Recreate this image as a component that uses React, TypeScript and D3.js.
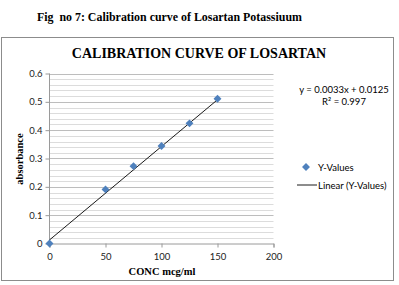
import * as d3 from 'd3';
import { useEffect, useRef } from "react";

// calibration standards (concentration, absorbance)
const concentrations = [0, 50, 75, 100, 125, 150];
const absorbances = [0, 0.191, 0.273, 0.344, 0.424, 0.511];
const xTicks = [0, 50, 100, 150, 200];
const yTicks = [0, 0.1, 0.2, 0.3, 0.4, 0.5, 0.6];
const slope = 0.0033;
const intercept = 0.0125;
const fitLabel = 'y = 0.0033x + 0.0125';
const r2Label = 'R² = 0.997';

const W = 399, H = 285;
const m = { left: 49.5, right: 273.5, top: 73.5, bottom: 243.5 };

const App = () => {
    const svgRef = useRef(null);

    useEffect(() => {
        const svg = d3.select(svgRef.current);
        svg.selectAll('*').remove();

        const x = d3.scaleLinear().domain([0, 200]).range([m.left, m.right]);
        const y = d3.scaleLinear().domain([0, 0.6]).range([m.bottom, m.top]);
        const serif = '"Liberation Serif", "Times New Roman", serif';
        const sans = 'Lato, "Liberation Sans", sans-serif';

        svg.append('rect').attr('width', W).attr('height', H).attr('fill', '#fff');

        svg.append('text')
            .attr('x', 37).attr('y', 21)
            .attr('font-family', serif).attr('font-weight', 'bold').attr('font-size', 11.9)
            .style('white-space', 'pre')
            .text('Fig  no 7: Calibration curve of Losartan Potassiuum');

        // chart frame
        svg.append('rect')
            .attr('x', 1.5).attr('y', 37.5).attr('width', 392).attr('height', 243)
            .attr('fill', 'none').attr('stroke', '#8c8c8c').attr('stroke-width', 1);

        svg.append('text')
            .attr('x', 199).attr('y', 58).attr('text-anchor', 'middle')
            .attr('font-family', serif).attr('font-weight', 'bold').attr('font-size', 14)
            .text('CALIBRATION CURVE OF LOSARTAN');

        // minor + major horizontal gridlines
        const minor = d3.range(0.02, 0.6001, 0.02);
        svg.append('g').selectAll('line').data(minor).enter().append('line')
            .attr('x1', m.left).attr('x2', m.right)
            .attr('y1', d => Math.round(y(d)) + 0.5).attr('y2', d => Math.round(y(d)) + 0.5)
            .attr('stroke', (d, i) => (i + 1) % 5 === 0 ? '#bdbdbd' : '#dcdcdc')
            .attr('stroke-width', 1);

        // axes
        const axisColor = '#9a9a9a';
        const yAxis = svg.append('g').attr('transform', `translate(${m.left},0)`)
            .call(d3.axisLeft(y).tickValues(yTicks).tickSize(4).tickFormat(d3.format('')));
        const xAxis = svg.append('g').attr('transform', `translate(0,${m.bottom})`)
            .call(d3.axisBottom(x).tickValues(xTicks).tickSize(4).tickFormat(d3.format('')));
        [xAxis, yAxis].forEach(g => {
            g.select('.domain').attr('stroke', axisColor);
            g.selectAll('.tick line').attr('stroke', axisColor);
            g.selectAll('.tick text').attr('fill', '#222').attr('font-family', sans).attr('font-size', 9.5);
        });
        yAxis.select('.domain').attr('d', `M0,${m.top}V${m.bottom}`);
        yAxis.selectAll('.tick text').attr('x', -7);
        xAxis.selectAll('.tick text').attr('y', 10);

        // linear fit
        svg.append('line')
            .attr('x1', x(0)).attr('y1', y(intercept))
            .attr('x2', x(150)).attr('y2', y(slope * 150 + intercept))
            .attr('stroke', '#000').attr('stroke-width', 0.9);

        const diamond = d3.symbol().type(d3.symbolDiamond2).size(40);
        svg.append('g').selectAll('path').data(concentrations).enter().append('path')
            .attr('d', diamond)
            .attr('transform', (d, i) => `translate(${x(d)},${y(absorbances[i])})`)
            .attr('fill', '#4f81bd');

        svg.append('text')
            .attr('transform', 'rotate(270)')
            .attr('x', -159).attr('y', 23).attr('text-anchor', 'middle')
            .attr('font-family', serif).attr('font-weight', 'bold').attr('font-size', 10.5)
            .text('absorbance');
        svg.append('text')
            .attr('x', 162).attr('y', 275).attr('text-anchor', 'middle')
            .attr('font-family', serif).attr('font-weight', 'bold').attr('font-size', 10.5)
            .text('CONC mcg/ml');

        // equation label
        svg.append('text')
            .attr('x', 344).attr('y', 92.5).attr('text-anchor', 'middle')
            .attr('font-family', sans).attr('font-size', 9.5)
            .text(fitLabel);
        svg.append('text')
            .attr('x', 344).attr('y', 105).attr('text-anchor', 'middle')
            .attr('font-family', sans).attr('font-size', 9.5)
            .text(r2Label);

        // legend
        svg.append('path').attr('d', diamond)
            .attr('transform', 'translate(306,167)').attr('fill', '#4f81bd');
        svg.append('text')
            .attr('x', 318).attr('y', 170.5)
            .attr('font-family', sans).attr('font-size', 9.5)
            .text('Y-Values');
        svg.append('line')
            .attr('x1', 297).attr('x2', 317).attr('y1', 185).attr('y2', 185)
            .attr('stroke', '#000').attr('stroke-width', 0.9);
        svg.append('text')
            .attr('x', 318).attr('y', 188.5)
            .attr('font-family', sans).attr('font-size', 9.5)
            .text('Linear (Y-Values)');
    }, []);

    return (
        <svg ref={svgRef} width={W} height={H}
            style={{ position: 'absolute', left: 0, top: 0, display: 'block' }} />
    );
}

export default App;
